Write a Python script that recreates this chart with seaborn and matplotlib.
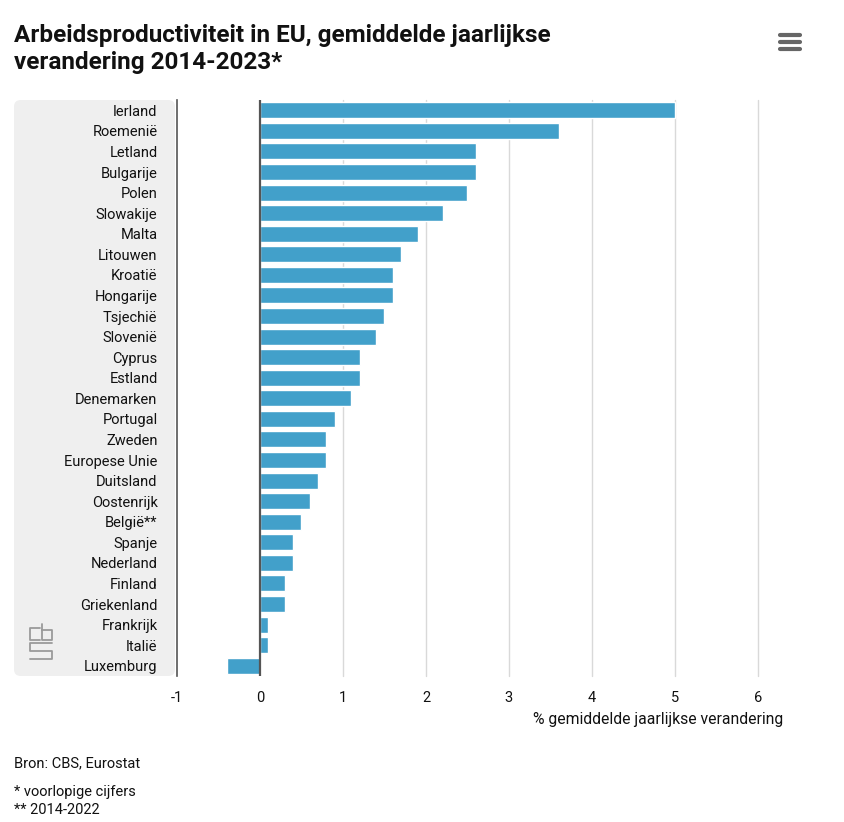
import matplotlib
matplotlib.use("Agg")
import matplotlib.pyplot as plt
import seaborn as sns
import pandas as pd
from matplotlib.patches import FancyBboxPatch
from matplotlib.lines import Line2D

countries = ["Ierland", "Roemenië", "Letland", "Bulgarije", "Polen", "Slowakije", "Malta",
             "Litouwen", "Kroatië", "Hongarije", "Tsjechië", "Slovenië", "Cyprus", "Estland",
             "Denemarken", "Portugal", "Zweden", "Europese Unie", "Duitsland", "Oostenrijk",
             "België**", "Spanje", "Nederland", "Finland", "Griekenland", "Frankrijk", "Italië",
             "Luxemburg"]
values = [5.0, 3.6, 2.6, 2.6, 2.5, 2.2, 1.9, 1.7, 1.6, 1.6, 1.5, 1.4, 1.2, 1.2, 1.1, 0.9,
          0.8, 0.8, 0.7, 0.6, 0.5, 0.4, 0.4, 0.3, 0.3, 0.1, 0.1, -0.4]
x_ticks = [-1, 0, 1, 2, 3, 4, 5, 6]

title = "Arbeidsproductiviteit in EU, gemiddelde jaarlijkse\nverandering 2014-2023*"
x_label = "% gemiddelde jaarlijkse verandering"
footer_source = "Bron: CBS, Eurostat"
footer_notes = "* voorlopige cijfers\n** 2014-2022"

df = pd.DataFrame({"land": countries, "waarde": values})

sns.set_style("white")
plt.rcParams['font.family'] = ['Roboto', 'DejaVu Sans']

W, H = 845, 822
fig = plt.figure(figsize=(W / 100, H / 100), dpi=100)


def fx(px):
    return px / W


def fy(py):
    return 1 - py / H


# grey label panel
panel = FancyBboxPatch((fx(14), fy(676)), (175 - 14) / W, (676 - 100) / H,
                       boxstyle="round,pad=0,rounding_size=0.008",
                       transform=fig.transFigure, facecolor="#efefef", edgecolor="none",
                       zorder=-5)
fig.patches.append(panel)

ax = fig.add_axes([fx(177), fy(676), (758 - 177) / W, (676 - 100) / H])
ax.set_facecolor("none")
ax.set_zorder(2)

sns.barplot(data=df, x="waarde", y="land", color="#42a0ca", saturation=1, width=0.78,
            ax=ax, zorder=3)

ax.set_xlim(-1, 6)
ax.set_ylim(len(countries) - 0.5, -0.5)
ax.set_xticks(x_ticks)
ax.set_xticklabels([str(t) for t in x_ticks])
for t in x_ticks[2:]:
    ax.axvline(t, color="#d9d9d9", lw=1, zorder=1, clip_on=False)
ax.axvline(0, color="#555555", lw=1.6, zorder=4)

for s in ["top", "right", "bottom"]:
    ax.spines[s].set_visible(False)
ax.spines["left"].set_color("#555555")
ax.spines["left"].set_linewidth(1.2)

ax.tick_params(axis="y", length=0, pad=14, labelsize=10.5, labelcolor="#111111")
ax.tick_params(axis="x", length=0, pad=11, labelsize=10.5, labelcolor="#111111")
ax.set_ylabel("")
ax.set_xlabel("")

fig.text(fx(783), fy(719), x_label, ha="right", va="center", fontsize=11.3, color="#111111")

fig.text(fx(14), fy(49), title, ha="left", va="center", fontsize=17.5,
         fontweight="bold", color="#111111", linespacing=1.2)

fig.text(fx(14), fy(763), footer_source, ha="left", va="center", fontsize=10.5,
         color="#111111")
fig.text(fx(14), fy(801), footer_notes, ha="left", va="center", fontsize=10.5,
         color="#111111", linespacing=1.35)

# menu icon
for yy in (35, 42, 49):
    fig.add_artist(Line2D([fx(780), fx(800)], [fy(yy), fy(yy)], color="#666666",
                          lw=3, solid_capstyle="round", transform=fig.transFigure))

# simplified logo outline
logo_paths = [
    [(40, 628), (30, 628), (30, 640), (40, 640)],
    [(42, 624), (42, 640), (52, 640), (52, 630), (42, 630)],
    [(52, 643), (30, 643), (30, 651), (52, 651), (52, 659), (30, 659)],
]
for path in logo_paths:
    fig.add_artist(Line2D([fx(p[0]) for p in path], [fy(p[1]) for p in path],
                          color="#9a9a9a", lw=1.3, transform=fig.transFigure))

fig.savefig("out.png", dpi=100)
